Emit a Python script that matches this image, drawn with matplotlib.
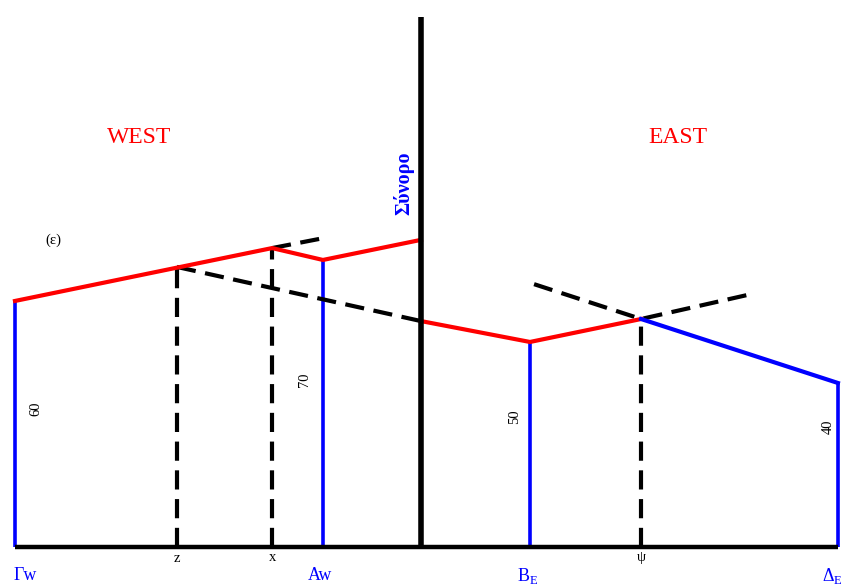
import matplotlib
matplotlib.use("Agg")
import matplotlib.pyplot as plt

plt.rcParams['font.family'] = ['Liberation Serif', 'DejaVu Serif']

# Horizontal positions (distance units)
x_G, x_z, x_x, x_A, x_border, x_B, x_psi, x_D = 0.0, 39.5, 62.7, 75.1, 99.0, 125.6, 152.7, 200.7
# Heights
h_G, h_A, h_B, h_D = 60, 70, 50, 40
h_z = 68.3          # red line above z
h_x = 72.9          # kink above x
h_xdash_end = 75.4  # dashed continuation beyond x
h_border_w = 74.9   # red line at border, west side
h_border_e = 55.1   # red line at border, east side
h_psi = 55.6        # kink above psi
h_dash_left = 64.1
h_dash_right = 61.5
h_top = 129.3       # top of border line

RED = '#ff0000'
BLUE = '#0000ff'
BLK = '#000000'

fig = plt.figure(figsize=(8.41, 5.85), dpi=100)
ax = fig.add_axes([0, 0, 1, 1])
ax.set_xlim(-3.66, 201.46)
ax.set_ylim(-9.27, 133.4)
ax.axis('off')

dash = dict(color=BLK, lw=3.0, dashes=(4.6, 2.3), solid_capstyle='butt', dash_capstyle='butt')

# baseline
ax.plot([x_G, x_D], [0, 0], color=BLK, lw=3.2, solid_capstyle='butt', zorder=3)
# border
ax.plot([x_border, x_border], [0, h_top], color=BLK, lw=4.0, solid_capstyle='butt', zorder=4)

# blue verticals
for xx, hh in [(x_G, h_G), (x_A, h_A), (x_B, h_B), (x_D, h_D)]:
    ax.plot([xx, xx], [0, hh], color=BLUE, lw=2.6, solid_capstyle='butt', zorder=2)

# red lines
ax.plot([x_G, x_x, x_A, x_border], [h_G, h_x, h_A, h_border_w], color=RED, lw=3.0, zorder=3)
ax.plot([x_border, x_B, x_psi], [h_border_e, h_B, h_psi], color=RED, lw=3.0, zorder=3)
# blue slope
ax.plot([x_psi, x_D], [h_psi, h_D], color=BLUE, lw=3.0, zorder=3)

# dashed lines
ax.plot([x_z, x_z], [0, h_z], **dash)
ax.plot([x_x, x_x], [0, h_x], **dash)
ax.plot([x_psi, x_psi], [0, h_psi], **dash)
ax.plot([x_z, x_border], [h_z, h_border_e], **dash)
ax.plot([x_x, x_A + 0.5], [h_x, h_xdash_end], **dash)
ax.plot([126.6, x_psi, 178.8], [h_dash_left, h_psi, h_dash_right], **dash)

# texts
ax.text(30.2, 99.8, 'WEST', color=RED, fontsize=17, ha='center', va='center')
ax.text(161.7, 99.8, 'EAST', color=RED, fontsize=17, ha='center', va='center')
ax.text(94.9, 88.8, 'Σύνορο', color=BLUE, fontsize=14.5, fontweight='bold',
        rotation=90, ha='center', va='center')
ax.text(9.3, 74.9, '(ε)', color=BLK, fontsize=10.5, ha='center', va='center')

ax.text(5.1, 33.7, '60', color=BLK, fontsize=10.5, rotation=90, ha='center', va='center')
ax.text(70.7, 40.7, '70', color=BLK, fontsize=10.5, rotation=90, ha='center', va='center')
ax.text(121.9, 31.7, '50', color=BLK, fontsize=10.5, rotation=90, ha='center', va='center')
ax.text(198.3, 29.3, '40', color=BLK, fontsize=10.5, rotation=90, ha='center', va='center')

ax.text(x_z, -2.7, 'z', color=BLK, fontsize=10.5, ha='center', va='center')
ax.text(x_x, -2.5, 'x', color=BLK, fontsize=10.5, ha='center', va='center')
ax.text(x_psi, -2.5, 'ψ', color=BLK, fontsize=10.5, ha='center', va='center')

ax.text(2.4, -6.9, 'Γw', color=BLUE, fontsize=13, ha='center', va='center')
ax.text(74.4, -6.9, 'Aw', color=BLUE, fontsize=13, ha='center', va='center')
ax.text(124.9, -7.0, r'B$_{\mathregular{E}}$', color=BLUE, fontsize=13, ha='center', va='center')
ax.text(199.3, -7.0, r'Δ$_{\mathregular{E}}$', color=BLUE, fontsize=13, ha='center', va='center')

fig.savefig('out.png', dpi=100)
